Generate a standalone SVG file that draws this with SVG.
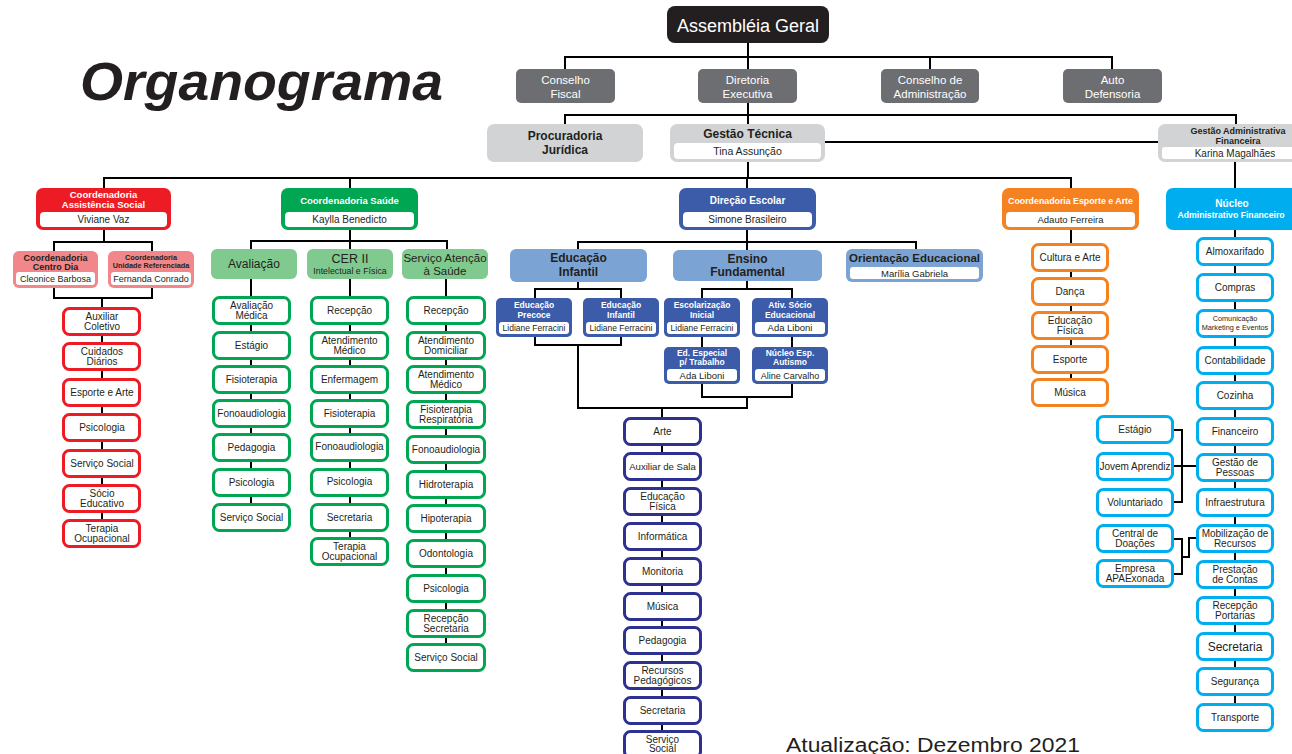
<svg xmlns="http://www.w3.org/2000/svg" width="1292" height="754" viewBox="0 0 1292 754">
<style>
text{font-family:"Liberation Sans",Arial,Helvetica,sans-serif;text-anchor:middle;fill:#231f20}
.l{fill:none;stroke:#000;stroke-width:2}
.it{font-size:10px}
.b{font-weight:bold}
.w{fill:#fff}
.bx{fill:#fff;stroke-width:3}
.r{stroke:#ed1c24}.g{stroke:#00a651}.n{stroke:#2e3192}.o{stroke:#f58220}.c{stroke:#00aeef}
.in{fill:#fff}
</style>
<rect width="1292" height="754" fill="#fff"/>
<text x="80" y="100" style="text-anchor:start;font-size:54px;font-weight:900;font-style:italic" textLength="363" lengthAdjust="spacingAndGlyphs">Organograma</text>
<text x="786" y="752" style="text-anchor:start;font-size:20px" textLength="294" lengthAdjust="spacingAndGlyphs">Atualização: Dezembro 2021</text>

<g id="connectors">
<path class="l" d="M748 43V57M565 69V57H1112V69M930 57V69M748 57V69"/>
<path class="l" d="M748 103V115M565 124V115H1236V124M748 115V124"/>
<path class="l" d="M825 142H1158"/>
<path class="l" d="M748 162V178M104 188V178H1071V188M350 178V188M747 178V188M1235 162V188"/>
<path class="l" d="M104 230V242M54 251V242H152V251M54 288V298H152V288M102 298V519"/>
<path class="l" d="M350 230V241M251 249V241H447V249M350 241V249M251 279V503M350 279V537M446 279V643"/>
<path class="l" d="M747 230V251M578 249V242H916V249"/>
<path class="l" d="M578 282V289M535 298V289H621V298M535 337V345H621V337M578 345V408H747V397M662 408V754"/>
<path class="l" d="M747 280V289M702 298V289H792V298M702 337V347M792 337V347M702 384V397H792V384"/>
<path class="l" d="M1071 230V378"/>
<path class="l" d="M1235 230V703"/>
<path class="l" d="M1174 430H1182V502H1174M1174 466H1196M1174 539H1182V574H1174M1182 557H1189V538H1196"/>
</g>

<g id="assembleia"><rect x="667" y="6" width="162" height="37" rx="8" fill="#231f20"/><text class="w" x="748" y="32" style="font-size:18px">Assembléia Geral</text></g>
<g id="conselho-fiscal"><rect x="516" y="69" width="99" height="34" rx="5" fill="#6d6e71"/><text class="w" x="565.5" y="84" style="font-size:11.5px">Conselho</text><text class="w" x="565.5" y="98" style="font-size:11.5px">Fiscal</text></g>
<g id="diretoria"><rect x="698" y="69" width="99" height="34" rx="5" fill="#6d6e71"/><text class="w" x="747.5" y="84" style="font-size:11.5px">Diretoria</text><text class="w" x="747.5" y="98" style="font-size:11.5px">Executiva</text></g>
<g id="conselho-adm"><rect x="881" y="69" width="98" height="34" rx="5" fill="#6d6e71"/><text class="w" x="930" y="84" style="font-size:11.5px">Conselho de</text><text class="w" x="930" y="98" style="font-size:11.5px">Administração</text></g>
<g id="auto-defensoria"><rect x="1063" y="69" width="99" height="34" rx="5" fill="#6d6e71"/><text class="w" x="1112.5" y="84" style="font-size:11.5px">Auto</text><text class="w" x="1112.5" y="98" style="font-size:11.5px">Defensoria</text></g>
<g id="procuradoria"><rect x="487" y="124" width="156" height="38" rx="7" fill="#d1d3d4"/><text class="b" x="565" y="140" style="font-size:12px">Procuradoria</text><text class="b" x="565" y="154" style="font-size:12px">Jurídica</text></g>
<g id="gestao-tecnica"><rect x="670" y="124" width="155" height="38" rx="7" fill="#d1d3d4"/><text class="b" x="747.5" y="138" style="font-size:12px">Gestão Técnica</text><rect class="in" x="674" y="143" width="147" height="16" rx="4"/><text x="747.5" y="155" style="font-size:10.5px">Tina Assunção</text></g>
<g id="gestao-adm"><rect x="1158" y="124" width="145" height="38" rx="7" fill="#d1d3d4"/><text class="b" x="1238" y="134" style="font-size:9px">Gestão Administrativa</text><text class="b" x="1238" y="144" style="font-size:9px">Financeira</text><rect class="in" x="1162" y="147" width="140" height="12" rx="3"/><text x="1235" y="157" style="font-size:10px">Karina Magalhães</text></g>

<g id="coord-assistencia"><rect x="36" y="188" width="135" height="42" rx="7" fill="#ed1c24"/><text class="w b" x="103.5" y="198" style="font-size:9.5px">Coordenadoria</text><text class="w b" x="103.5" y="208" style="font-size:9.5px">Assistência Social</text><rect class="in" x="40" y="212" width="127" height="15" rx="4"/><text x="103.5" y="223" style="font-size:10px">Viviane Vaz</text></g>
<g id="coord-saude"><rect x="281" y="188" width="137" height="42" rx="7" fill="#00a651"/><text class="w b" x="349.5" y="204" style="font-size:9.5px">Coordenadoria Saúde</text><rect class="in" x="285" y="212" width="129" height="15" rx="4"/><text x="349.5" y="223" style="font-size:10px">Kaylla Benedicto</text></g>
<g id="direcao-escolar"><rect x="679" y="188" width="137" height="42" rx="7" fill="#3c5ba8"/><text class="w b" x="747.5" y="204" style="font-size:10px">Direção Escolar</text><rect class="in" x="683" y="212" width="129" height="15" rx="4"/><text x="747.5" y="223" style="font-size:10px">Simone Brasileiro</text></g>
<g id="coord-esporte"><rect x="1002" y="188" width="137" height="42" rx="7" fill="#f58220"/><text class="w b" x="1070.5" y="204" style="font-size:8.8px">Coordenadoria Esporte e Arte</text><rect class="in" x="1006" y="212" width="129" height="15" rx="4"/><text x="1070.5" y="223" style="font-size:9.5px">Adauto Ferreira</text></g>
<g id="nucleo-adm"><rect x="1166" y="188" width="140" height="42" rx="7" fill="#00aeef"/><text class="w b" x="1232" y="207" style="font-size:10px">Núcleo</text><text class="w b" x="1231" y="218" style="font-size:8.7px">Administrativo Financeiro</text></g>

<g id="centro-dia"><rect x="13" y="251" width="85" height="37" rx="6" fill="#f1878a"/><text class="b" x="55.5" y="261" style="font-size:9px">Coordenadoria</text><text class="b" x="55.5" y="270" style="font-size:9px">Centro Dia</text><rect class="in" x="16" y="272" width="79" height="13" rx="3"/><text x="55.5" y="282" style="font-size:9px">Cleonice Barbosa</text></g>
<g id="unidade-ref"><rect x="108" y="251" width="86" height="37" rx="6" fill="#f1878a"/><text class="b" x="151" y="260" style="font-size:7.3px">Coordenadoria</text><text class="b" x="151" y="268" style="font-size:7.3px">Unidade Referenciada</text><rect class="in" x="111" y="272" width="80" height="13" rx="3"/><text x="151" y="282" style="font-size:9px">Fernanda Conrado</text></g>

<g id="as-auxiliar"><rect class="bx r" x="63.5" y="308.5" width="76" height="26" rx="6"/><text class="it" x="102" y="319.5">Auxiliar</text><text class="it" x="102" y="329.5">Coletivo</text></g>
<g id="as-cuidados"><rect class="bx r" x="63.5" y="343.5" width="76" height="26" rx="6"/><text class="it" x="102" y="354.5">Cuidados</text><text class="it" x="102" y="364.5">Diários</text></g>
<g id="as-esporte"><rect class="bx r" x="63.5" y="379.5" width="76" height="26" rx="6"/><text class="it" x="102" y="396">Esporte e Arte</text></g>
<g id="as-psicologia"><rect class="bx r" x="63.5" y="414.5" width="76" height="26" rx="6"/><text class="it" x="102" y="431">Psicologia</text></g>
<g id="as-servico"><rect class="bx r" x="63.5" y="450.5" width="76" height="26" rx="6"/><text class="it" x="102" y="467">Serviço Social</text></g>
<g id="as-socio"><rect class="bx r" x="63.5" y="485.5" width="76" height="26" rx="6"/><text class="it" x="102" y="496.5">Sócio</text><text class="it" x="102" y="506.5">Educativo</text></g>
<g id="as-terapia"><rect class="bx r" x="63.5" y="520.5" width="76" height="26" rx="6"/><text class="it" x="102" y="531.5">Terapia</text><text class="it" x="102" y="541.5">Ocupacional</text></g>

<g id="avaliacao"><rect x="211" y="249" width="86" height="30" rx="6" fill="#80c98f"/><text x="254" y="268" style="font-size:12px">Avaliação</text></g>
<g id="cer"><rect x="307" y="249" width="86" height="30" rx="6" fill="#80c98f"/><text x="350" y="263" style="font-size:12.5px">CER II</text><text x="350" y="274" style="font-size:8.8px">Intelectual e Física</text></g>
<g id="servico-atencao"><rect x="402" y="249" width="86" height="30" rx="6" fill="#80c98f"/><text x="445" y="262" style="font-size:11.5px">Serviço Atenção</text><text x="445" y="275" style="font-size:11.5px">à Saúde</text></g>

<g id="av-medica"><rect class="bx g" x="213.5" y="297.5" width="76" height="26" rx="6"/><text class="it" x="251.5" y="308.5">Avaliação</text><text class="it" x="251.5" y="318.5">Médica</text></g>
<g id="av-estagio"><rect class="bx g" x="213.5" y="332.5" width="76" height="26" rx="6"/><text class="it" x="251.5" y="349">Estágio</text></g>
<g id="av-fisio"><rect class="bx g" x="213.5" y="366.5" width="76" height="26" rx="6"/><text class="it" x="251.5" y="383">Fisioterapia</text></g>
<g id="av-fono"><rect class="bx g" x="213.5" y="400.5" width="76" height="26" rx="6"/><text class="it" x="251.5" y="417">Fonoaudiologia</text></g>
<g id="av-pedagogia"><rect class="bx g" x="213.5" y="434.5" width="76" height="26" rx="6"/><text class="it" x="251.5" y="451">Pedagogia</text></g>
<g id="av-psicologia"><rect class="bx g" x="213.5" y="469.5" width="76" height="26" rx="6"/><text class="it" x="251.5" y="486">Psicologia</text></g>
<g id="av-servico"><rect class="bx g" x="213.5" y="504.5" width="76" height="26" rx="6"/><text class="it" x="251.5" y="521">Serviço Social</text></g>

<g id="cer-recepcao"><rect class="bx g" x="311.5" y="297.5" width="76" height="26" rx="6"/><text class="it" x="349.5" y="314">Recepção</text></g>
<g id="cer-atendimento"><rect class="bx g" x="311.5" y="332.5" width="76" height="26" rx="6"/><text class="it" x="349.5" y="343.5">Atendimento</text><text class="it" x="349.5" y="353.5">Médico</text></g>
<g id="cer-enfermagem"><rect class="bx g" x="311.5" y="366.5" width="76" height="26" rx="6"/><text class="it" x="349.5" y="383">Enfermagem</text></g>
<g id="cer-fisio"><rect class="bx g" x="311.5" y="400.5" width="76" height="26" rx="6"/><text class="it" x="349.5" y="417">Fisioterapia</text></g>
<g id="cer-fono"><rect class="bx g" x="311.5" y="434.5" width="76" height="26" rx="6"/><text class="it" x="349.5" y="450">Fonoaudiologia</text></g>
<g id="cer-psicologia"><rect class="bx g" x="311.5" y="469.5" width="76" height="26" rx="6"/><text class="it" x="349.5" y="485">Psicologia</text></g>
<g id="cer-secretaria"><rect class="bx g" x="311.5" y="504.5" width="76" height="26" rx="6"/><text class="it" x="349.5" y="521">Secretaria</text></g>
<g id="cer-terapia"><rect class="bx g" x="311.5" y="538.5" width="76" height="26" rx="6"/><text class="it" x="349.5" y="549.5">Terapia</text><text class="it" x="349.5" y="559.5">Ocupacional</text></g>

<g id="sa-recepcao"><rect class="bx g" x="407.5" y="297.5" width="77" height="26" rx="6"/><text class="it" x="446" y="314">Recepção</text></g>
<g id="sa-domiciliar"><rect class="bx g" x="407.5" y="332.5" width="77" height="26" rx="6"/><text class="it" x="446" y="344">Atendimento</text><text class="it" x="446" y="354">Domiciliar</text></g>
<g id="sa-medico"><rect class="bx g" x="407.5" y="366.5" width="77" height="26" rx="6"/><text class="it" x="446" y="378">Atendimento</text><text class="it" x="446" y="388">Médico</text></g>
<g id="sa-fisio"><rect class="bx g" x="407.5" y="401.5" width="77" height="26" rx="6"/><text class="it" x="446" y="412.5">Fisioterapia</text><text class="it" x="446" y="422.5">Respiratória</text></g>
<g id="sa-fono"><rect class="bx g" x="407.5" y="436.5" width="77" height="26" rx="6"/><text class="it" x="446" y="453">Fonoaudiologia</text></g>
<g id="sa-hidro"><rect class="bx g" x="407.5" y="471.5" width="77" height="26" rx="6"/><text class="it" x="446" y="488">Hidroterapia</text></g>
<g id="sa-hipo"><rect class="bx g" x="407.5" y="505.5" width="77" height="26" rx="6"/><text class="it" x="446" y="522">Hipoterapia</text></g>
<g id="sa-odonto"><rect class="bx g" x="407.5" y="540.5" width="77" height="26" rx="6"/><text class="it" x="446" y="557">Odontologia</text></g>
<g id="sa-psicologia"><rect class="bx g" x="407.5" y="575.5" width="77" height="26" rx="6"/><text class="it" x="446" y="592">Psicologia</text></g>
<g id="sa-recepcao-sec"><rect class="bx g" x="407.5" y="610.5" width="77" height="26" rx="6"/><text class="it" x="446" y="621.5">Recepção</text><text class="it" x="446" y="631.5">Secretaria</text></g>
<g id="sa-servico"><rect class="bx g" x="407.5" y="644.5" width="77" height="26" rx="6"/><text class="it" x="446" y="661">Serviço Social</text></g>

<g id="educacao-infantil"><rect x="510" y="249" width="137" height="33" rx="6" fill="#7ba4d4"/><text class="b" x="578.5" y="262" style="font-size:12px">Educação</text><text class="b" x="578.5" y="276" style="font-size:12px">Infantil</text></g>
<g id="ensino-fundamental"><rect x="673" y="250" width="149" height="31" rx="6" fill="#7ba4d4"/><text class="b" x="747.5" y="263" style="font-size:12px">Ensino</text><text class="b" x="747.5" y="276" style="font-size:12px">Fundamental</text></g>
<g id="orientacao"><rect x="846" y="249" width="137" height="33" rx="6" fill="#7ba4d4"/><text class="b" x="914.5" y="262" style="font-size:11.5px">Orientação Educacional</text><rect class="in" x="850" y="267" width="129" height="12" rx="3"/><text x="914.5" y="276.5" style="font-size:9.5px">Marília Gabriela</text></g>

<g id="ed-precoce"><rect x="496" y="298" width="76" height="39" rx="5" fill="#3c5ba8"/><text class="w b" x="534" y="308" style="font-size:8.5px">Educação</text><text class="w b" x="534" y="318" style="font-size:8.5px">Precoce</text><rect class="in" x="499" y="322" width="70" height="12" rx="3"/><text x="534" y="331" style="font-size:8.5px">Lidiane Ferracini</text></g>
<g id="ed-infantil"><rect x="583" y="298" width="76" height="39" rx="5" fill="#3c5ba8"/><text class="w b" x="621" y="308" style="font-size:8.5px">Educação</text><text class="w b" x="621" y="318" style="font-size:8.5px">Infantil</text><rect class="in" x="586" y="322" width="70" height="12" rx="3"/><text x="621" y="331" style="font-size:8.5px">Lidiane Ferracini</text></g>
<g id="escolarizacao"><rect x="664" y="298" width="76" height="39" rx="5" fill="#3c5ba8"/><text class="w b" x="702" y="308" style="font-size:8.5px">Escolarização</text><text class="w b" x="702" y="318" style="font-size:8.5px">Inicial</text><rect class="in" x="667" y="322" width="70" height="12" rx="3"/><text x="702" y="331" style="font-size:8.5px">Lidiane Ferracini</text></g>
<g id="ativ-socio"><rect x="752" y="298" width="76" height="39" rx="5" fill="#3c5ba8"/><text class="w b" x="790" y="308" style="font-size:8.5px">Ativ. Sócio</text><text class="w b" x="790" y="318" style="font-size:8.5px">Educacional</text><rect class="in" x="755" y="322" width="70" height="12" rx="3"/><text x="790" y="331" style="font-size:9.5px">Ada Liboni</text></g>
<g id="ed-especial"><rect x="664" y="347" width="76" height="37" rx="5" fill="#3c5ba8"/><text class="w b" x="702" y="356" style="font-size:8.5px">Ed. Especial</text><text class="w b" x="702" y="365" style="font-size:8.5px">p/ Trabalho</text><rect class="in" x="667" y="369" width="70" height="12" rx="3"/><text x="702" y="378.5" style="font-size:9.5px">Ada Liboni</text></g>
<g id="nucleo-autismo"><rect x="752" y="347" width="76" height="37" rx="5" fill="#3c5ba8"/><text class="w b" x="790" y="356" style="font-size:8.5px">Núcleo Esp.</text><text class="w b" x="790" y="365" style="font-size:8.5px">Autismo</text><rect class="in" x="755" y="369" width="70" height="12" rx="3"/><text x="790" y="378.5" style="font-size:9px">Aline Carvalho</text></g>

<g id="de-arte"><rect class="bx n" x="624.5" y="418.5" width="76" height="26" rx="6"/><text class="it" x="662.5" y="435">Arte</text></g>
<g id="de-auxiliar"><rect class="bx n" x="624.5" y="453.5" width="76" height="26" rx="6"/><text class="it" x="662.5" y="470" style="font-size:9.6px">Auxiliar de Sala</text></g>
<g id="de-edfisica"><rect class="bx n" x="624.5" y="488.5" width="76" height="26" rx="6"/><text class="it" x="662.5" y="499.5">Educação</text><text class="it" x="662.5" y="509.5">Física</text></g>
<g id="de-informatica"><rect class="bx n" x="624.5" y="523.5" width="76" height="26" rx="6"/><text class="it" x="662.5" y="540">Informática</text></g>
<g id="de-monitoria"><rect class="bx n" x="624.5" y="558.5" width="76" height="26" rx="6"/><text class="it" x="662.5" y="575">Monitoria</text></g>
<g id="de-musica"><rect class="bx n" x="624.5" y="593.5" width="76" height="26" rx="6"/><text class="it" x="662.5" y="610">Música</text></g>
<g id="de-pedagogia"><rect class="bx n" x="624.5" y="627.5" width="76" height="26" rx="6"/><text class="it" x="662.5" y="644">Pedagogia</text></g>
<g id="de-recursos"><rect class="bx n" x="624.5" y="662.5" width="76" height="26" rx="6"/><text class="it" x="662.5" y="673.5">Recursos</text><text class="it" x="662.5" y="683.5">Pedagógicos</text></g>
<g id="de-secretaria"><rect class="bx n" x="624.5" y="697.5" width="76" height="26" rx="6"/><text class="it" x="662.5" y="714">Secretaria</text></g>
<g id="de-servico"><rect class="bx n" x="624.5" y="731.5" width="76" height="26" rx="6"/><text class="it" x="662.5" y="742.5">Serviço</text><text class="it" x="662.5" y="752">Social</text></g>

<g id="ea-cultura"><rect class="bx o" x="1032.5" y="244.5" width="75" height="26" rx="6"/><text class="it" x="1070" y="261">Cultura e Arte</text></g>
<g id="ea-danca"><rect class="bx o" x="1032.5" y="278.5" width="75" height="26" rx="6"/><text class="it" x="1070" y="295">Dança</text></g>
<g id="ea-edfisica"><rect class="bx o" x="1032.5" y="312.5" width="75" height="26" rx="6"/><text class="it" x="1070" y="323.5">Educação</text><text class="it" x="1070" y="333.5">Física</text></g>
<g id="ea-esporte"><rect class="bx o" x="1032.5" y="346.5" width="75" height="26" rx="6"/><text class="it" x="1070" y="363">Esporte</text></g>
<g id="ea-musica"><rect class="bx o" x="1032.5" y="379.5" width="75" height="26" rx="6"/><text class="it" x="1070" y="396">Música</text></g>

<g id="na-almox"><rect class="bx c" x="1197.5" y="238.5" width="75" height="26" rx="6"/><text class="it" x="1235" y="255">Almoxarifado</text></g>
<g id="na-compras"><rect class="bx c" x="1197.5" y="274.5" width="75" height="26" rx="6"/><text class="it" x="1235" y="291">Compras</text></g>
<g id="na-comunicacao"><rect class="bx c" x="1197.5" y="310.5" width="75" height="26" rx="6"/><text x="1235" y="321" style="font-size:7.3px">Comunicação</text><text x="1235" y="330" style="font-size:7.3px">Marketing e Eventos</text></g>
<g id="na-contab"><rect class="bx c" x="1197.5" y="347.5" width="75" height="26" rx="6"/><text class="it" x="1235" y="364">Contabilidade</text></g>
<g id="na-cozinha"><rect class="bx c" x="1197.5" y="382.5" width="75" height="26" rx="6"/><text class="it" x="1235" y="399">Cozinha</text></g>
<g id="na-financeiro"><rect class="bx c" x="1197.5" y="418.5" width="75" height="26" rx="6"/><text class="it" x="1235" y="435">Financeiro</text></g>
<g id="na-gestao"><rect class="bx c" x="1197.5" y="454.5" width="75" height="26" rx="6"/><text class="it" x="1235" y="465.5">Gestão de</text><text class="it" x="1235" y="475.5">Pessoas</text></g>
<g id="na-infra"><rect class="bx c" x="1197.5" y="489.5" width="75" height="26" rx="6"/><text class="it" x="1235" y="506">Infraestrutura</text></g>
<g id="na-mobilizacao"><rect class="bx c" x="1197.5" y="525.5" width="75" height="26" rx="6"/><text class="it" x="1235" y="536.5">Mobilização de</text><text class="it" x="1235" y="546.5">Recursos</text></g>
<g id="na-prestacao"><rect class="bx c" x="1197.5" y="561.5" width="75" height="26" rx="6"/><text class="it" x="1235" y="572.5">Prestação</text><text class="it" x="1235" y="582.5">de Contas</text></g>
<g id="na-recepcao"><rect class="bx c" x="1197.5" y="597.5" width="75" height="26" rx="6"/><text class="it" x="1235" y="608.5">Recepção</text><text class="it" x="1235" y="618.5">Portarias</text></g>
<g id="na-secretaria"><rect class="bx c" x="1197.5" y="633.5" width="75" height="26" rx="6"/><text x="1235" y="651" style="font-size:12px">Secretaria</text></g>
<g id="na-seguranca"><rect class="bx c" x="1197.5" y="668.5" width="75" height="26" rx="6"/><text class="it" x="1235" y="685">Segurança</text></g>
<g id="na-transporte"><rect class="bx c" x="1197.5" y="704.5" width="75" height="26" rx="6"/><text class="it" x="1235" y="721">Transporte</text></g>

<g id="gp-estagio"><rect class="bx c" x="1097.5" y="416.5" width="75" height="26" rx="6"/><text class="it" x="1135" y="433">Estágio</text></g>
<g id="gp-jovem"><rect class="bx c" x="1097.5" y="453.5" width="75" height="26" rx="6"/><text class="it" x="1135" y="470">Jovem Aprendiz</text></g>
<g id="gp-voluntariado"><rect class="bx c" x="1097.5" y="489.5" width="75" height="26" rx="6"/><text class="it" x="1135" y="506">Voluntariado</text></g>
<g id="mr-central"><rect class="bx c" x="1097.5" y="525.5" width="75" height="26" rx="6"/><text class="it" x="1135" y="536.5">Central de</text><text class="it" x="1135" y="546.5">Doações</text></g>
<g id="mr-empresa"><rect class="bx c" x="1097.5" y="560.5" width="75" height="26" rx="6"/><text class="it" x="1135" y="571.5">Empresa</text><text class="it" x="1135" y="581.5">APAExonada</text></g>
</svg>
